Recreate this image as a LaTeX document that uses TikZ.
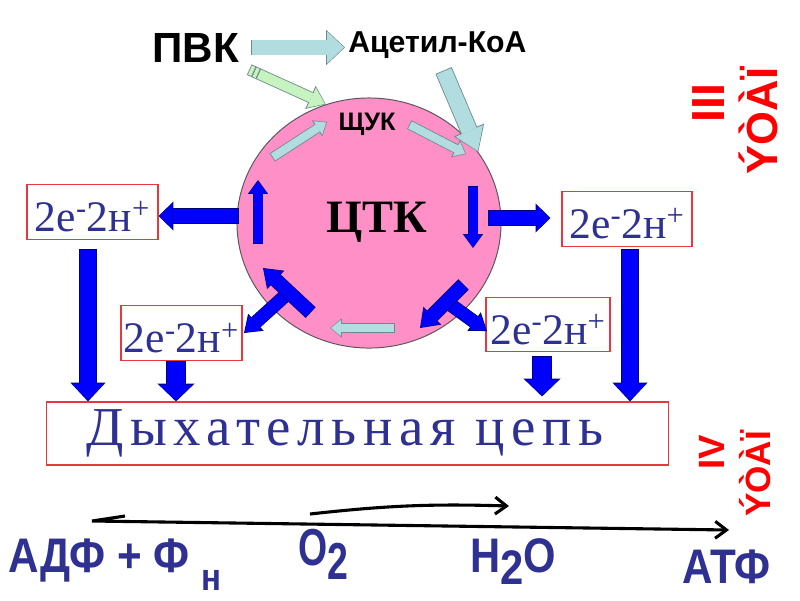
\documentclass[tikz,border=0pt]{standalone}
\usepackage{fontspec}
\usepackage{graphicx}
\setmainfont{Liberation Serif}
\newfontfamily\arialfont{Liberation Sans}
\usetikzlibrary{arrows.meta, shapes.geometric, calc}
\definecolor{tcaPink}{HTML}{FF8FC7}
\definecolor{tcaNavy}{HTML}{2E3192}
\definecolor{tcaBlue}{HTML}{0000FF}
\definecolor{tcaEdge}{HTML}{00007A}
\definecolor{tcaPale}{HTML}{B2DDE0}
\definecolor{tcaGray}{HTML}{6F8A8C}
\definecolor{tcaGreen}{HTML}{C6F3C0}
\definecolor{tcaRed}{HTML}{E5393F}
\newcommand{\eh}{2e\textsuperscript{-}2н\textsuperscript{+}}

\begin{document}
\begin{tikzpicture}[x=0.025cm, y=-0.025cm,
    fat/.style n args={8}{draw=#1, line width=#3,
        -{Triangle[width=#4, length=#5, line width=0pt]}, shorten >=0.7pt,
        preaction={draw=#2, line width=#6, -{Triangle[width=#7, length=#8, line width=0pt]},
          shorten >=0pt, shorten <=-0.6pt}},
    bluebig/.style={fat={tcaBlue}{tcaEdge}{11.3pt}{22.7pt}{12pt}{12.5pt}{25pt}{13.4pt}},
    bluesmall/.style={fat={tcaBlue}{tcaEdge}{12.8pt}{24pt}{11.3pt}{14pt}{26.4pt}{12.7pt}},
    blueside/.style={fat={tcaBlue}{tcaEdge}{10pt}{18.4pt}{9.2pt}{11.2pt}{20.8pt}{10.6pt}},
    bluein/.style={fat={tcaBlue}{tcaEdge}{6.4pt}{12pt}{8.5pt}{7.6pt}{14.4pt}{9.9pt}},
    bluediag/.style={fat={tcaBlue}{tcaEdge}{9.2pt}{15.6pt}{11pt}{10.4pt}{18pt}{12.4pt}},
    bluebranch/.style={fat={tcaBlue}{tcaEdge}{8.5pt}{14pt}{10pt}{9.7pt}{16.4pt}{11.4pt}},
    palebig/.style={fat={tcaPale}{tcaGray}{10pt}{22.7pt}{12pt}{11.2pt}{25.1pt}{13.4pt}},
    paleacyl/.style={fat={tcaPale}{tcaGray}{11.3pt}{21pt}{15.6pt}{12.5pt}{23.4pt}{17pt}},
    palein/.style={fat={tcaPale}{tcaGray}{5.7pt}{11.3pt}{7pt}{6.9pt}{13.7pt}{8.4pt}},
    greenarr/.style={fat={tcaGreen}{tcaGray}{7pt}{15.6pt}{10.6pt}{8.2pt}{18pt}{12pt}},
    greenbar/.style={draw=tcaGreen, line width=7pt,
        preaction={draw=tcaGray, line width=8.2pt, shorten <=-0.6pt, shorten >=-0.6pt}},
    ebox/.style={draw=tcaRed, line width=0.8pt, fill=white, inner sep=0pt,
        minimum height=1.36cm, text height=28pt, text depth=0pt,
        font=\fontsize{31}{31}\selectfont, text=tcaNavy},
    chainbox/.style={draw=tcaRed, line width=0.8pt, fill=white, inner sep=0pt,
        minimum width=15.525cm, minimum height=1.575cm, text=tcaNavy,
        font=\fontsize{39}{39}\selectfont\addfontfeature{LetterSpace=12}},
    txt/.style={inner sep=0pt, anchor=base west},
    bot/.style={txt, text=tcaNavy, font=\arialfont\bfseries\fontsize{34.5}{34.5}\selectfont},
    stage/.style={inner sep=0pt, rotate=90, text=red},
    thinarrow/.style={line width=2.2pt, line join=miter,
        -{Straight Barb[length=8pt, width=12pt]}},
  ]
  \fill[white] (0,0) rectangle (800,600);

  \node[ellipse, draw=black!65, line width=0.7pt, fill=tcaPink, inner sep=0pt,
        minimum width=6.6cm, minimum height=6.25cm] (tca) at (369,223) {};
  \node[txt, anchor=base, font=\bfseries\fontsize{33}{33}\selectfont] (tcaname) at (377,232) {ЦТК};
  \node[txt, anchor=base, font=\arialfont\bfseries\fontsize{18}{18}\selectfont] (oaa) at (367,130) {ЩУК};
  \node[txt, font=\arialfont\bfseries\fontsize{30}{30}\selectfont] (pvk) at (152,62) {ПВК};
  \node[txt, font=\arialfont\bfseries\fontsize{21.5}{21.5}\selectfont] (acoa) at (348,52) {Ацетил-КоА};

  \node[ebox, minimum width=3.275cm] (eL) at (92.5,212) {\eh};
  \node[ebox, minimum width=3.025cm] (eLL) at (181.5,333) {\eh};
  \node[ebox, minimum width=3.25cm] (eR) at (627,219) {\eh};
  \node[ebox, minimum width=3.1cm] (eLR) at (548,324.5) {\eh};
  \node[chainbox] (chain) at (357.5,433.5) {Дыхательная цепь\kern18pt};

  \node[stage, font=\arialfont\bfseries\fontsize{33}{33}\selectfont] (st3) at (709,103) {III};
  \node[stage, font=\arialfont\bfseries\fontsize{31}{31}\selectfont] (st3w) at (758,121) {ÝÒÀÏ};
  \node[stage, font=\arialfont\bfseries\fontsize{26}{26}\selectfont] (st4) at (712,452) {IV};
  \node[stage, font=\arialfont\bfseries\fontsize{25}{25}\selectfont] (st4w) at (755,474) {ÝÒÀÏ};

  \node[bot] (adp) at (8,572) {\scalebox{0.87}[1]{АДФ + Ф\hspace{9pt}\raisebox{-12.8pt}{\fontsize{27}{27}\selectfont н}}};
  \node[bot, font=\arialfont\bfseries\fontsize{37}{37}\selectfont] (o2) at (298,565) {\scalebox{0.72}[1]{O\raisebox{-10.6pt}{2}}};
  \node[bot] (h2o) at (470,572) {\scalebox{0.86}[1]{H\raisebox{-9.2pt}{2}O}};
  \node[bot] (atp) at (682,583) {\scalebox{0.87}[1]{АТФ}};

  \draw[palebig] ($(pvk.east)+(13,0)$) -- ($(pvk.east -| acoa.west)+(-3,0)$);
  \draw[paleacyl] ($(acoa.south)+(6.5,13)$) -- (tca.33);
  \coordinate (gA) at (250,70);
  \draw[greenbar] (gA) -- ($(gA)!2.5pt!(tca.110)$);
  \draw[greenbar] ($(gA)!3.6pt!(tca.110)$) -- ($(gA)!6pt!(tca.110)$);
  \draw[greenarr] ($(gA)!7pt!(tca.110)$) -- (tca.110);

  \coordinate (p1) at (273,157);
  \coordinate (p2) at (327,122);
  \coordinate (p3) at (410,125);
  \coordinate (p4) at (466,154);
  \coordinate (p5) at (394,328);
  \coordinate (p6) at (330,328);
  \draw[palein] (p1) -- (p2);
  \draw[palein] (p3) -- (p4);
  \draw[palein] (p5) -- (p6);

  \coordinate (b1) at (258,243);
  \coordinate (b2) at (258,180);
  \coordinate (b3) at (473,187);
  \coordinate (b4) at (473,248);
  \coordinate (b5) at (310,312);
  \coordinate (b6) at (263,268);
  \coordinate (b7) at (463,285);
  \coordinate (b8) at (420,328);
  \draw[bluein] (b1) -- (b2);
  \draw[bluein] (b3) -- (b4);
  \draw[bluebranch] (287,294) -- (244,333);
  \draw[bluebranch] (451,305) -- (487,331);
  \draw[bluediag] (b5) -- (b6);
  \draw[bluediag] (b7) -- (b8);

  \coordinate (lOut) at ($(tca.west)+(2,-7)$);
  \coordinate (rOut) at ($(tca.east)+(-13,-5)$);
  \draw[blueside] (lOut) -- (lOut -| eL.east);
  \draw[blueside] (rOut) -- ($(rOut -| eR.west)+(-11,0)$);

  \coordinate (dL) at (88,250);
  \coordinate (dLL) at (176,362);
  \coordinate (dLR) at (542,357);
  \coordinate (dR) at (630,250);
  \draw[bluebig] (dL) -- (dL |- chain.north);
  \draw[bluesmall] (dLL) -- (dLL |- chain.north);
  \draw[bluesmall] (dLR) -- ($(dLR |- chain.north)+(0,-5)$);
  \draw[bluebig] (dR) -- (dR |- chain.north);

  \coordinate (hookA) at (125,516);
  \coordinate (hookB) at (92,521);
  \coordinate (atpEnd) at (729,530);
  \coordinate (o2Start) at (310,514);
  \coordinate (h2oEnd) at (509,506);
  \draw[thinarrow] (hookA) -- (hookB) -- (atpEnd);
  \draw[thinarrow] (o2Start) to[bend left=4] (h2oEnd);
\end{tikzpicture}
\end{document}
